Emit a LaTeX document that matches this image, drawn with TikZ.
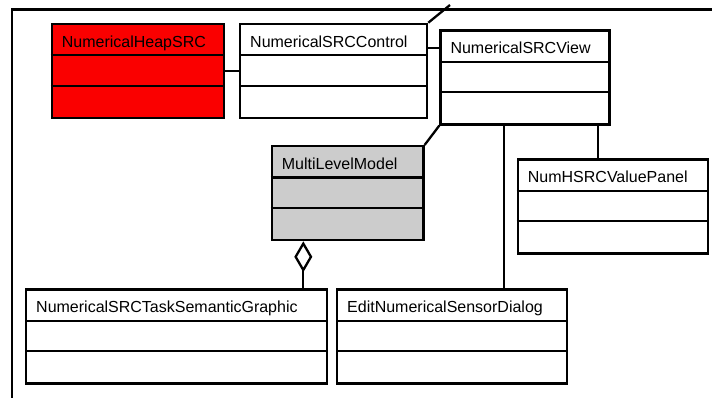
\documentclass[tikz,border=0pt]{standalone}
\usepackage{fontspec}
\setmainfont{Liberation Sans}
\usetikzlibrary{arrows.meta}

\definecolor{heapred}{RGB}{250,0,0}
\definecolor{modelgray}{RGB}{204,204,204}

\tikzset{
  classbox/.style={draw=black, line width=2.3pt, inner sep=0pt, anchor=north west,
                   minimum height=94pt},
  classname/.style={anchor=base west, inner sep=0pt, font=\fontsize{16}{19}\selectfont},
  divider/.style={draw=black, line width=2.3pt},
  link/.style={draw=black, line width=2.3pt},
  frameline/.style={draw=black, line width=2.3pt},
}

% \umlclass{name}{left}{top}{width}{fill}{title}
\newcommand{\umlclass}[6]{%
  \node[classbox, fill=#5, minimum width=#4pt] (#1) at (#2,#3) {};
  \draw[divider] ([yshift=-32.5pt]#1.north west) -- ([yshift=-32.5pt]#1.north east);
  \draw[divider] ([yshift=-63pt]#1.north west) -- ([yshift=-63pt]#1.north east);
  \node[classname] (#1-title) at ([xshift=11pt,yshift=-24.5pt]#1.north west) {#6};
}

\begin{document}
\begin{tikzpicture}[x=1pt,y=-1pt]
  \useasboundingbox (0,0) rectangle (712,398);

  % package frame (only top and left edges visible)
  \coordinate (frametl) at (12,9.5);
  \coordinate (frametr) at (712,9.5);
  \coordinate (framebl) at (12,398);
  \draw[frameline] (frametr) -- (frametl) -- (framebl);

  % classes
  \umlclass{heap}{50.7}{22.7}{172}{heapred}{NumericalHeapSRC}
  \umlclass{ctrl}{239}{22.7}{187}{white}{NumericalSRCControl}
  \umlclass{view}{439.3}{29.3}{169}{white}{NumericalSRCView}
  \umlclass{mlm}{270.7}{145}{151.6}{modelgray}{MultiLevelModel}
  \umlclass{panel}{516.7}{158.3}{190}{white}{NumHSRCValuePanel}
  \umlclass{graphic}{25}{288.3}{301}{white}{NumericalSRCTaskSemanticGraphic}
  \umlclass{dialog}{336}{288.3}{230}{white}{EditNumericalSensorDialog}

  % associations
  \coordinate (offtop) at (450,5);
  \draw[link] (heap.east) -- (ctrl.west);
  \draw[link] (ctrl.east |- 0,48.3) -- (view.west |- 0,48.3);
  \draw[link] (ctrl.north east) -- (offtop);
  \draw[link] (view.south west) -- (mlm.north east);
  \draw[link] (view.south -| 504,0) -- (dialog.north -| 504,0);
  \draw[link] (view.south -| 597.7,0) -- (panel.north -| 597.7,0);

  % aggregation
  \draw[link, -{Diamond[open, length=31pt, width=18pt, line width=2.3pt]}]
    (graphic.north -| 303.3,0) -- (mlm.south -| 303.3,0);
\end{tikzpicture}
\end{document}
